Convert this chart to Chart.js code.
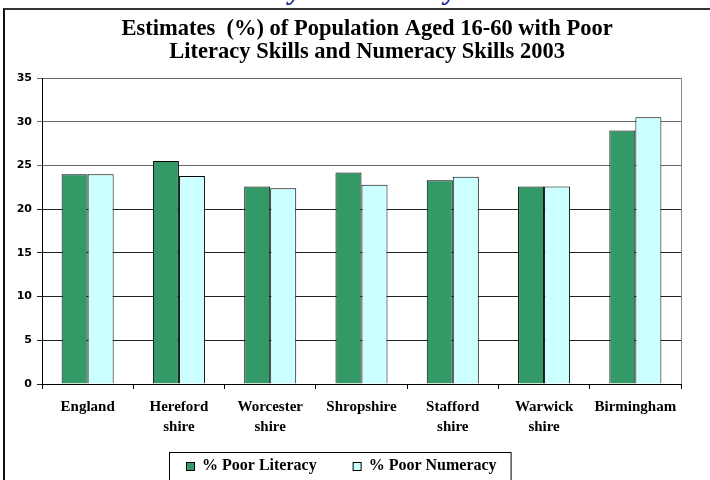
<!DOCTYPE html>
<html lang="en">
<head>
    <meta charset="UTF-8">
    <title>Poor Literacy and Numeracy Skills 2003</title>
    <script src="https://cdn.jsdelivr.net/npm/chart.js"></script>
    <style>
        html, body { margin: 0; padding: 0; background: #fff; overflow: hidden; width: 710px; height: 480px; }
        .heading {
            position: absolute; right: 253px; top: -26px; text-align: right;
            font: italic bold 28px "Liberation Serif", serif; color: #1c1c8e; white-space: nowrap;
        }
        .frame {
            position: absolute; left: 3px; top: 8px; width: 720px; height: 500px;
            border-left: 2px solid #111; border-top: 2px solid #333;
        }
    </style>
</head>
<body>
<div class="heading">Literacy &amp; Numeracy</div>
<div class="frame">
    <canvas id="skills-chart" width="710" height="500"></canvas>
</div>
<script>
    // Areas and the two survey estimates (%) for each
    const areas = [
        ['England'],
        ['Hereford', 'shire'],
        ['Worcester', 'shire'],
        ['Shropshire'],
        ['Stafford', 'shire'],
        ['Warwick', 'shire'],
        ['Birmingham']
    ];
    const poorLiteracy = [24.0, 25.5, 22.6, 24.2, 23.3, 22.6, 29.0];
    const poorNumeracy = [24.0, 23.8, 22.4, 22.8, 23.7, 22.6, 30.5];
    const yTicks = [0, 5, 10, 15, 20, 25, 30, 35];

    const serif = '"Liberation Serif", "Times New Roman", serif';

    // Boxed legend under the axis plus the grey right edge of the plot
    const boxedLegend = {
        id: 'boxedLegend',
        afterDraw(chart) {
            const ctx = chart.ctx;
            const area = chart.chartArea;
            ctx.save();
            ctx.strokeStyle = '#8a8a8a';
            ctx.lineWidth = 1;
            ctx.beginPath();
            ctx.moveTo(Math.round(area.right) + 0.5, area.top);
            ctx.lineTo(Math.round(area.right) + 0.5, area.bottom);
            ctx.stroke();

            const left = Math.round(area.left) + 127;
            const top = Math.round(area.bottom) + 68;
            ctx.font = 'bold 16px ' + serif;
            ctx.textBaseline = 'middle';

            let x = left + 17;
            const cy = top + 14;
            chart.data.datasets.forEach((ds, i) => {
                ctx.fillStyle = ds.backgroundColor;
                ctx.fillRect(x, cy - 4, 9, 9);
                ctx.strokeStyle = '#000';
                ctx.strokeRect(x + 0.5, cy - 4 + 0.5, 8, 8);
                ctx.fillStyle = '#000';
                ctx.fillText(ds.label, x + 16, cy);
                x += 16 + ctx.measureText(ds.label).width;
                if (i < chart.data.datasets.length - 1) x += 36;
            });
            ctx.strokeStyle = '#000';
            ctx.strokeRect(left + 0.5, top + 0.5, x + 14 - left, 40);
            ctx.restore();
        }
    };

    const ctx = document.getElementById('skills-chart').getContext('2d');
    const skillsChart = new Chart(ctx, {
        type: 'bar',
        data: {
            labels: areas,
            datasets: [{
                label: '% Poor Literacy',
                data: poorLiteracy,
                backgroundColor: '#339966',
                borderColor: '#000',
                borderWidth: 1,
                borderSkipped: 'bottom'
            }, {
                label: '% Poor Numeracy',
                data: poorNumeracy,
                backgroundColor: '#ccffff',
                borderColor: '#000',
                borderWidth: 1,
                borderSkipped: 'bottom'
            }]
        },
        options: {
            responsive: false,
            animation: false,
            layout: {
                padding: { left: 0, right: 34, top: 0, bottom: 70 }
            },
            datasets: {
                bar: { categoryPercentage: 0.57, barPercentage: 1.0 }
            },
            scales: {
                x: {
                    grid: {
                        offset: true,
                        drawOnChartArea: false,
                        color: '#000',
                        tickLength: 5
                    },
                    border: { color: '#000' },
                    ticks: {
                        color: '#000',
                        padding: 8,
                        maxRotation: 0,
                        autoSkip: false,
                        font: { family: serif, size: 15, weight: 'bold', lineHeight: 1.33 }
                    },
                    afterFit: scale => { scale.height = 56; }
                },
                y: {
                    min: 0,
                    max: 35,
                    afterBuildTicks: scale => { scale.ticks = yTicks.map(v => ({ value: v })); },
                    grid: {
                        color: ctx => ctx.tick && ctx.tick.value >= 25 ? '#666' : '#222',
                        tickLength: 5
                    },
                    border: { color: '#000' },
                    ticks: {
                        color: '#000',
                        padding: 5,
                        font: { family: '"DejaVu Sans", Verdana, sans-serif', size: 11, weight: 'bold' }
                    },
                    afterFit: scale => { scale.width = 37; }
                }
            },
            plugins: {
                legend: { display: false },
                tooltip: { enabled: false },
                title: {
                    display: true,
                    fullSize: false,
                    text: ['  Estimates  (%) of Population Aged 16-60 with Poor',
                           '  Literacy Skills and Numeracy Skills 2003'],
                    color: '#000',
                    font: { family: serif, size: 22.5, weight: 'bold', lineHeight: 1.0 },
                    padding: { top: 8, bottom: 15 }
                }
            }
        },
        plugins: [boxedLegend]
    });
</script>
</body>
</html>
